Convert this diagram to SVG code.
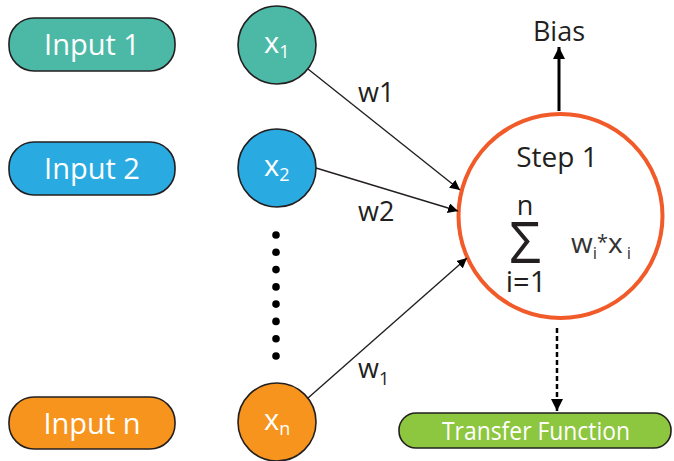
<svg xmlns="http://www.w3.org/2000/svg" width="674" height="461" viewBox="0 0 674 461">
<style>
.box{stroke:#231f20;stroke-width:1.6}
.wt{fill:#ffffff;font-family:"Open Sans",sans-serif}
.dk{fill:#231f20;font-family:"Open Sans",sans-serif}
.ln{stroke:#231f20;stroke-width:1.4;fill:none}
</style>
<defs>
<marker id="ah" viewBox="0 0 10 10" refX="10" refY="5" markerWidth="10" markerHeight="10" markerUnits="userSpaceOnUse" orient="auto">
<path d="M0,0 L10,5 L0,10 Z" fill="#000"/>
</marker>
<marker id="ahb" viewBox="0 0 10 10" refX="10" refY="5" markerWidth="12" markerHeight="12" markerUnits="userSpaceOnUse" orient="auto">
<path d="M0,0 L10,5 L0,10 Z" fill="#000"/>
</marker>
</defs>
<rect width="674" height="461" fill="#ffffff"/>

<g id="input1">
<rect class="box" x="9" y="18" width="166" height="53" rx="25" fill="#4cb9a7"/>
<text class="wt" x="92" y="55" font-size="29" text-anchor="middle">Input 1</text>
</g>
<g id="input2">
<rect class="box" x="9" y="142" width="166" height="53" rx="25" fill="#29abe2"/>
<text class="wt" x="92" y="179" font-size="29" text-anchor="middle">Input 2</text>
</g>
<g id="inputn">
<rect class="box" x="9" y="397" width="166" height="52" rx="25" fill="#f7941d"/>
<text class="wt" x="92" y="434" font-size="29" text-anchor="middle">Input n</text>
</g>

<g id="x1">
<circle class="box" cx="277" cy="45" r="39" fill="#4cb9a7"/>
<text class="wt" x="264" y="53" font-size="29">x<tspan font-size="18" dy="5">1</tspan></text>
</g>
<g id="x2">
<circle class="box" cx="277" cy="168" r="39" fill="#29abe2"/>
<text class="wt" x="264" y="176" font-size="29">x<tspan font-size="18" dy="5">2</tspan></text>
</g>
<g id="xn">
<circle class="box" cx="277" cy="422" r="39" fill="#f7941d"/>
<text class="wt" x="264" y="430" font-size="29">x<tspan font-size="18" dy="5">n</tspan></text>
</g>

<g id="dots" fill="#000">
<circle cx="276" cy="235" r="3.8"/>
<circle cx="276" cy="252.3" r="3.8"/>
<circle cx="276" cy="269.6" r="3.8"/>
<circle cx="276" cy="286.9" r="3.8"/>
<circle cx="276" cy="304.1" r="3.8"/>
<circle cx="276" cy="321.4" r="3.8"/>
<circle cx="276" cy="338.7" r="3.8"/>
<circle cx="276" cy="356" r="3.8"/>
</g>

<g id="step1">
<circle cx="560.5" cy="216" r="102" fill="#ffffff" stroke="#f15a29" stroke-width="4"/>
<text class="dk" x="557" y="167" font-size="28" text-anchor="middle">Step 1</text>
<text class="dk" x="525" y="215" font-size="27" text-anchor="middle">n</text>
<text class="dk" x="525" y="263" font-size="56" text-anchor="middle">Σ</text>
<text class="dk" x="526" y="292" font-size="29" text-anchor="middle">i=1</text>
<text x="571" y="253" font-size="28" fill="#333" font-family="'Open Sans',sans-serif">w<tspan font-size="17" dy="6">i</tspan><tspan font-size="20" dy="-10">*</tspan><tspan dy="4">x</tspan><tspan font-size="17" dx="4" dy="6">i</tspan></text>
</g>

<g id="bias">
<text class="dk" x="559" y="41" font-size="27" text-anchor="middle">Bias</text>
</g>

<g id="transfer">
<rect class="box" x="399" y="413" width="272" height="35" rx="17" fill="#8dc63f"/>
<text class="wt" x="536" y="440" font-size="25" text-anchor="middle" textLength="188" lengthAdjust="spacingAndGlyphs">Transfer Function</text>
</g>

<g id="connectors">
<line class="ln" x1="308" y1="69" x2="460" y2="190" marker-end="url(#ah)"/>
<line class="ln" x1="316" y1="168" x2="458" y2="211" marker-end="url(#ah)"/>
<line class="ln" x1="308" y1="398" x2="467" y2="258" marker-end="url(#ah)"/>
<line x1="559" y1="111" x2="559" y2="47" stroke="#000" stroke-width="3" marker-end="url(#ahb)"/>
<line x1="557" y1="328" x2="557" y2="411" stroke="#000" stroke-width="2.5" stroke-dasharray="5,3" marker-end="url(#ahb)"/>
<text class="dk" x="358" y="102" font-size="27">w1</text>
<text class="dk" x="358" y="221" font-size="27">w2</text>
<text class="dk" x="358" y="378" font-size="27">w<tspan font-size="18" dy="7">1</tspan></text>
</g>
</svg>
